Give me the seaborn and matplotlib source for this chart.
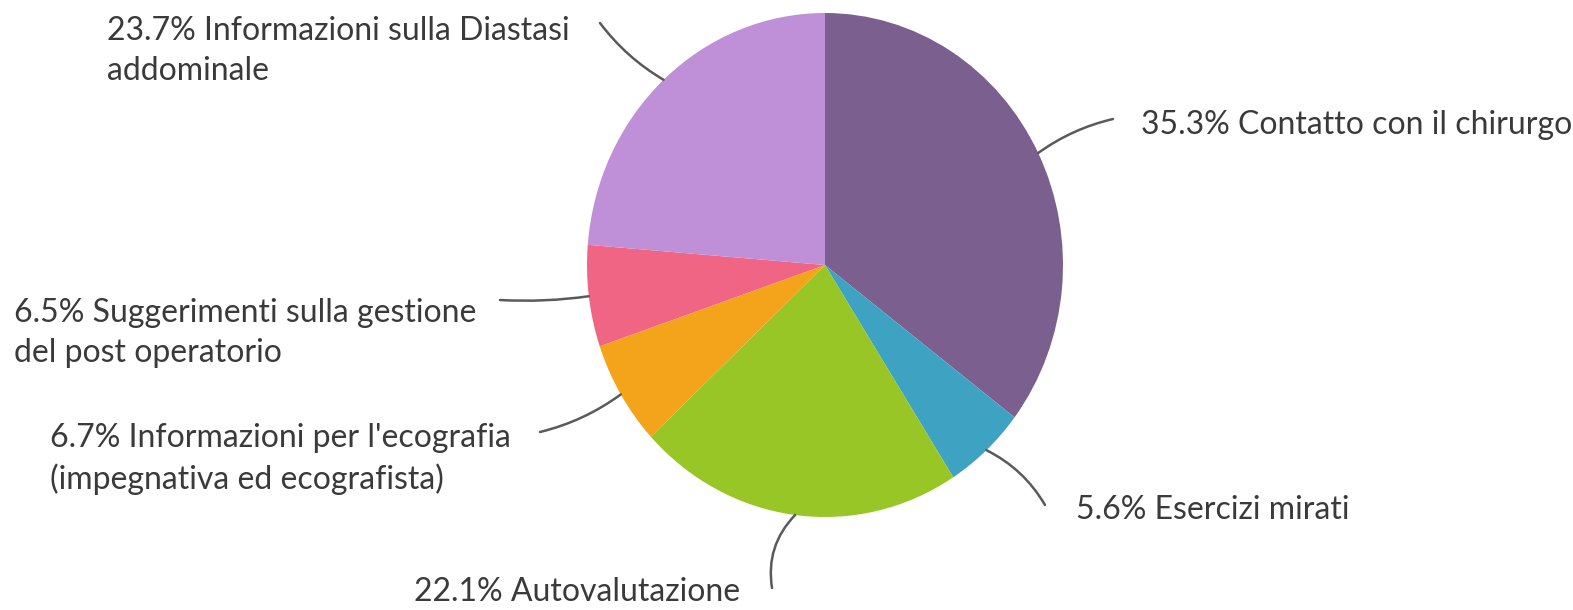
import numpy as np
import matplotlib
matplotlib.use("Agg")
import matplotlib.pyplot as plt
import seaborn as sns

# data (clockwise from 12 o'clock)
labels = ["Contatto con il chirurgo",
          "Esercizi mirati",
          "Autovalutazione",
          "Informazioni per l'ecografia\n(impegnativa ed ecografista)",
          "Suggerimenti sulla gestione\ndel post operatorio",
          "Informazioni sulla Diastasi\naddominale"]
pcts = [35.3, 5.6, 22.1, 6.7, 6.5, 23.7]
colors = ["#7B5F8F", "#3EA2C3", "#97C626", "#F4A41A", "#F06584", "#BF8FD8"]

sns.set_style("white")
plt.rcParams['font.family'] = ['Lato', 'DejaVu Sans']

W, H = 1573, 610
fig = plt.figure(figsize=(W / 100, H / 100), dpi=100)

def fx(px):
    return px / W

def fy(py):
    return 1 - py / H

# pie is a bit taller than wide in the reference
ax = fig.add_axes([fx(587), fy(517), 476 / W, 504 / H])
wedges, _ = ax.pie(pcts, colors=colors, startangle=90, counterclock=False,
                   radius=1, wedgeprops=dict(linewidth=0))
ax.set_aspect('auto')
ax.set_xlim(-1, 1)
ax.set_ylim(-1, 1)
ax.axis('off')

# label-side end of each connector, text anchor (left x, center y), curvature
line_ends = [(1113, 119), (1045, 505), (772, 588), (540, 432), (500, 300), (600, 23)]
text_pos = [(1141, 125), (1076, 510), (414, 592), (50, 459), (14, 333), (107, 51)]
rads = [0.1, 0.15, -0.25, 0.1, 0.05, 0.1]

txt_color = "#3a3a3a"
for w, lab, p, le, tp, rad in zip(wedges, labels, pcts, line_ends, text_pos, rads):
    ang = np.deg2rad((w.theta1 + w.theta2) / 2)
    edge = (w.r * np.cos(ang), w.r * np.sin(ang))
    ax.annotate("", xy=edge, xycoords='data',
                xytext=(fx(le[0]), fy(le[1])), textcoords='figure fraction',
                arrowprops=dict(arrowstyle='-', color="#5a5a5a", lw=1.8,
                                shrinkA=0, shrinkB=0,
                                connectionstyle=f"arc3,rad={rad}"),
                annotation_clip=False)
    fig.text(fx(tp[0]), fy(tp[1]), f"{p}% {lab}", ha='left', va='center',
             fontsize=23, color=txt_color, linespacing=1.4)

fig.savefig("out.png", dpi=100, facecolor="white")
